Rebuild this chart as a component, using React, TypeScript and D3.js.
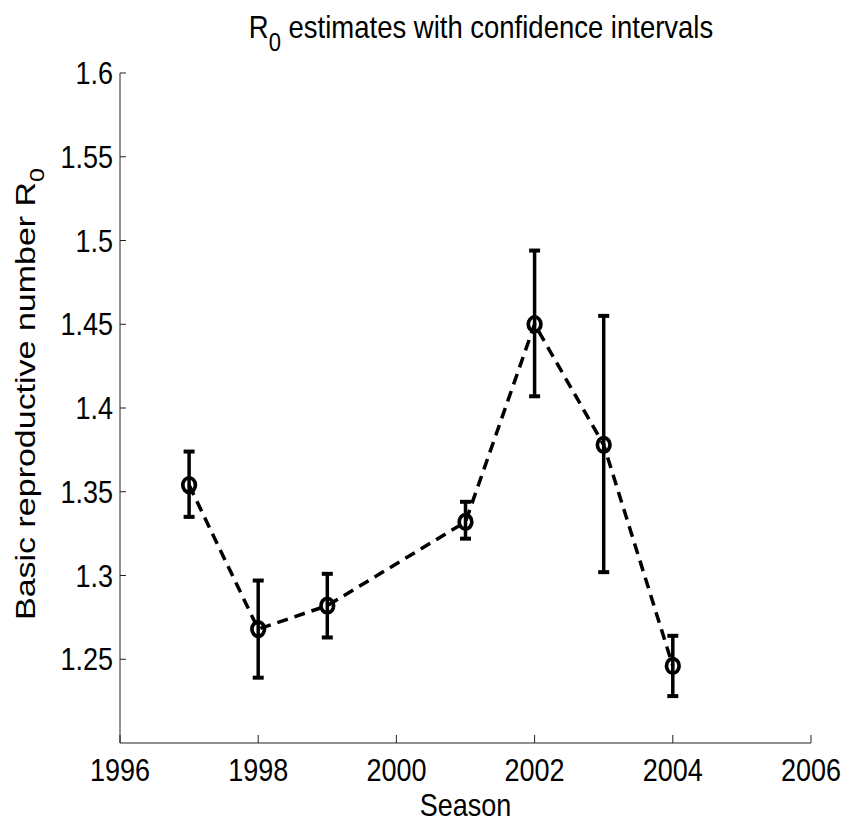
import React from "react";
import * as d3 from "d3";

const seasons = [1997, 1998, 1999, 2001, 2002, 2003, 2004];
const r0 = [1.354, 1.268, 1.282, 1.332, 1.45, 1.378, 1.246];
const lower = [1.335, 1.239, 1.263, 1.322, 1.407, 1.302, 1.228];
const upper = [1.374, 1.297, 1.301, 1.344, 1.494, 1.455, 1.264];
const xTicks = [1996, 1998, 2000, 2002, 2004, 2006];
const yTicks = [1.25, 1.3, 1.35, 1.4, 1.45, 1.5, 1.55, 1.6];
const yTickLabels = ["1.25", "1.3", "1.35", "1.4", "1.45", "1.5", "1.55", "1.6"];

const W = 851;
const H = 824;
const left = 120, right = 811, top = 73, bottom = 743;
const FONT = "'Liberation Sans', Arial, Helvetica, sans-serif";
const SY = 1.14;

export default function App() {
  const x = d3.scaleLinear().domain([1996, 2006]).range([left, right]);
  const y = d3.scaleLinear().domain([1.2, 1.6]).range([bottom, top]);
  const pts = seasons.map((s, i) => ({ s, v: r0[i], lo: lower[i], hi: upper[i] }));
  const line = d3.line<{ s: number; v: number }>().x((d) => x(d.s)).y((d) => y(d.v));

  return (
    <svg
      width={W}
      height={H}
      style={{ position: "absolute", left: 0, top: 0, background: "#fff" }}
      fontFamily={FONT}
    >
      <rect width={W} height={H} fill="#fff" />
      {/* axes */}
      <line x1={left} x2={left} y1={top} y2={bottom} stroke="#222" strokeWidth={1} />
      <line x1={left} x2={right} y1={bottom} y2={bottom} stroke="#222" strokeWidth={1} />
      {yTicks.map((t, i) => (
        <g key={"y" + t}>
          <line x1={left} x2={left + 6} y1={y(t)} y2={y(t)} stroke="#222" strokeWidth={1} />
          <g transform={`translate(${left - 7},${y(t)}) scale(1,${SY})`}>
            <text x={0} y={0} dy="0.36em" textAnchor="end" fontSize={27} fill="#000">
              {yTickLabels[i]}
            </text>
          </g>
        </g>
      ))}
      {xTicks.map((t) => (
        <g key={"x" + t}>
          <line x1={x(t)} x2={x(t)} y1={bottom} y2={bottom - 8} stroke="#222" strokeWidth={1} />
          <g transform={`translate(${x(t)},${781}) scale(1,${SY})`}>
            <text x={0} y={0} textAnchor="middle" fontSize={27} fill="#000">
              {t}
            </text>
          </g>
        </g>
      ))}
      {/* dashed line */}
      <path
        d={line(pts) || ""}
        fill="none"
        stroke="#000"
        strokeWidth={3.5}
        strokeDasharray="11 7"
      />
      {/* error bars */}
      {pts.map((d) => (
        <g key={"e" + d.s} stroke="#000" strokeWidth={3.5}>
          <line x1={x(d.s)} x2={x(d.s)} y1={y(d.lo)} y2={y(d.hi)} />
          <line x1={x(d.s) - 5.5} x2={x(d.s) + 5.5} y1={y(d.lo)} y2={y(d.lo)} strokeWidth={4} />
          <line x1={x(d.s) - 5.5} x2={x(d.s) + 5.5} y1={y(d.hi)} y2={y(d.hi)} strokeWidth={4} />
          <ellipse cx={x(d.s)} cy={y(d.v)} rx={6.3} ry={7.3} fill="none" strokeWidth={3.7} />
        </g>
      ))}
      {/* title */}
      <g transform={`translate(${481},${38}) scale(1,${SY})`}>
        <text x={0} y={0} textAnchor="middle" fontSize={27.5} fill="#000">
          R<tspan dy={11} fontSize={22}>0</tspan>
          <tspan dy={-11}> estimates with confidence intervals</tspan>
        </text>
      </g>
      {/* x label */}
      <g transform={`translate(${(left + right) / 2},${816}) scale(1,${SY})`}>
        <text x={0} y={0} textAnchor="middle" fontSize={27} fill="#000">
          Season
        </text>
      </g>
      {/* y label */}
      <g transform={`translate(${35},${394}) rotate(-90) scale(1,0.84)`}>
        <text x={0} y={0} textAnchor="middle" fontSize={34} fill="#000">
          Basic reproductive number R<tspan dy={11} fontSize={25}>0</tspan>
        </text>
      </g>
    </svg>
  );
}
